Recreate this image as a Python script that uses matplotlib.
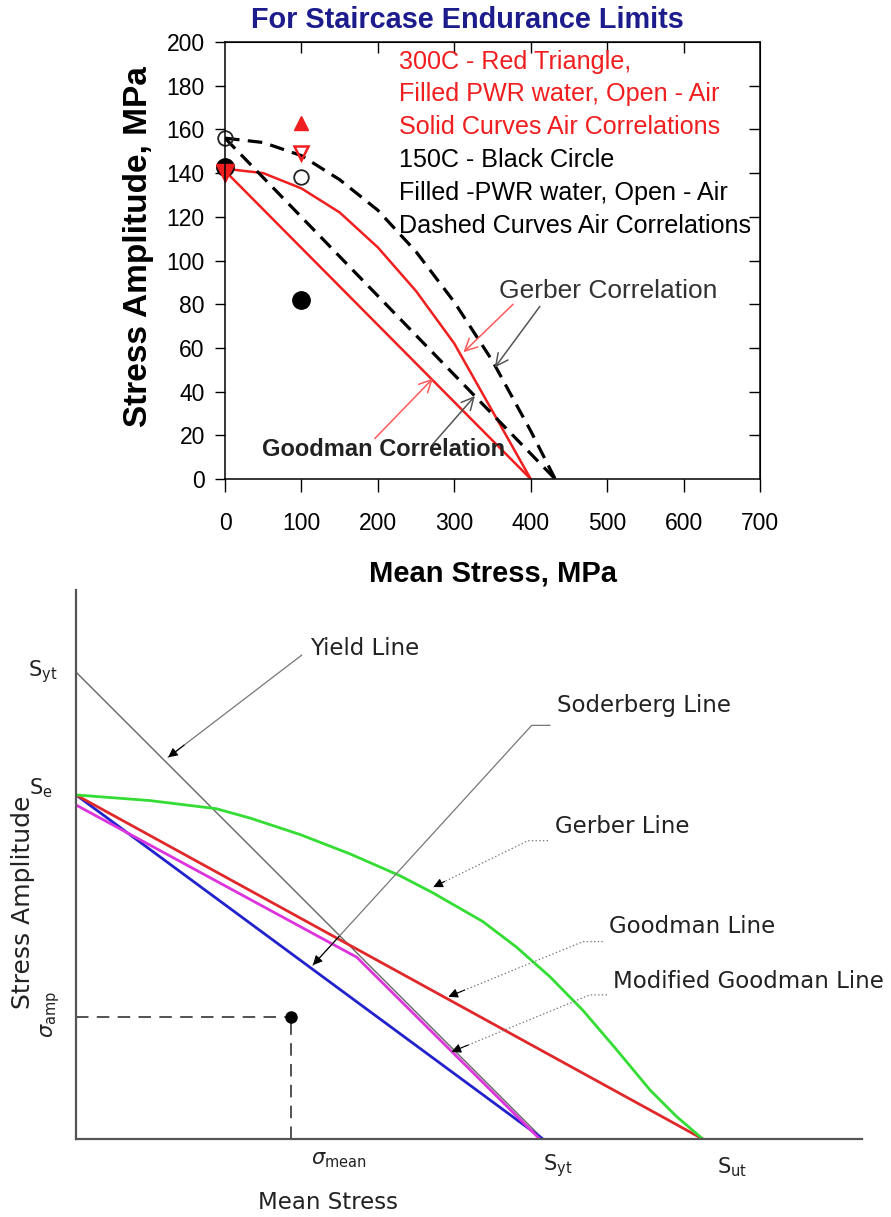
import matplotlib
matplotlib.use('Agg')
import matplotlib.pyplot as plt
from matplotlib.ticker import NullFormatter

# ---------------- top chart: staircase endurance limits ----------------
ticks_x = [0, 100, 200, 300, 400, 500, 600, 700]
ticks_y = [0, 20, 40, 60, 80, 100, 120, 140, 160, 180, 200]

# 300C air correlations (solid red)
gerber_300_x = [0, 50, 100, 150, 200, 250, 300, 350, 400]
gerber_300_y = [142, 140, 133, 122, 106, 86, 62, 31, 0]
goodman_300_x = [0, 400]
goodman_300_y = [141, 0]

# 150C air correlations (dashed black)
gerber_150_x = [0, 50, 100, 150, 200, 250, 300, 350, 400, 432]
gerber_150_y = [156, 154, 148, 137, 123, 104, 81, 54, 22, 0]
goodman_150_x = [0, 432]
goodman_150_y = [156, 0]

# test results
red_up_x, red_up_y = [100], [163]
red_down_x, red_down_y = [0], [140]
red_open_x, red_open_y = [100], [149]
black_fill_x, black_fill_y = [0, 100], [143, 82]
black_open_x, black_open_y = [0, 100], [156, 138]

notes_red = ['300C - Red Triangle,', 'Filled PWR water, Open - Air',
             'Solid Curves Air Correlations']
notes_black = ['150C - Black Circle', 'Filled -PWR water, Open - Air',
               'Dashed Curves Air Correlations']

# ---------------- bottom chart: fatigue failure lines ----------------
S_e = 0.549
S_yt = 0.745
S_ut = 1.0
gerber_x = [0, 0.118, 0.224, 0.278, 0.357, 0.437, 0.517, 0.569, 0.649, 0.703,
            0.756, 0.809, 0.862, 0.916, 0.958, 1.0]
gerber_y = [0.549, 0.540, 0.527, 0.512, 0.486, 0.455, 0.420, 0.393, 0.347, 0.306,
            0.259, 0.205, 0.143, 0.078, 0.036, 0]
mod_goodman_x = [0, 0.448, 0.740]
mod_goodman_y = [0.533, 0.290, 0]
sigma_mean, sigma_amp = 0.343, 0.195

plt.rcParams['font.family'] = ['Liberation Sans', 'DejaVu Sans']
plt.rcParams['lines.scale_dashes'] = False

fig = plt.figure(figsize=(8.91, 12.17), dpi=100)

# ===== top axes =====
ax1 = fig.add_axes([225 / 891, 1 - 479 / 1217, 535 / 891, 437 / 1217])
red = '#f01e1e'
ax1.plot(gerber_300_x, gerber_300_y, color=red, lw=1.8)
ax1.plot(goodman_300_x, goodman_300_y, color=red, lw=1.8)
ax1.plot(gerber_150_x, gerber_150_y, color='black', lw=2.3, dashes=(10.5, 6))
ax1.plot(goodman_150_x, goodman_150_y, color='black', lw=2.3, dashes=(10.5, 6))

ax1.plot(black_open_x, black_open_y, 'o', ms=10.5, mfc='none', mec='#222', mew=1.3, clip_on=False)
ax1.plot(black_fill_x, black_fill_y, 'o', ms=12.5, color='black', clip_on=False)
ax1.plot(red_down_x, red_down_y, 'v', ms=13, color=red, clip_on=False)
ax1.plot(red_up_x, red_up_y, '^', ms=9.5, color=red)
ax1.plot(red_open_x, red_open_y, 'v', ms=10, mfc='none', mec=red, mew=1.8)

ax1.set_xlim(0, 700)
ax1.set_ylim(0, 200)
ax1.set_xticks(ticks_x)
ax1.set_yticks(ticks_y)
ax1.tick_params(axis='x', direction='out', length=9.5, width=1, pad=14, labelsize=16.5)
ax1.tick_params(axis='y', direction='out', length=7.5, width=1, pad=7, labelsize=16.5)
for sp in ax1.spines.values():
    sp.set_linewidth(1.1)

top = ax1.secondary_xaxis('top')
top.set_xticks(ticks_x[1:-1])
top.xaxis.set_major_formatter(NullFormatter())
top.tick_params(direction='in', length=8, width=1)
right = ax1.secondary_yaxis('right')
right.set_yticks(ticks_y[1:-1])
right.yaxis.set_major_formatter(NullFormatter())
right.tick_params(direction='in', length=8, width=1)

ax1.set_xlabel('Mean Stress, MPa', fontsize=21, fontweight='bold', va='center')
ax1.xaxis.set_label_coords(0.5, -94 / 437)
ax1.set_ylabel('Stress Amplitude, MPa', fontsize=24, fontweight='bold', va='center')
ax1.yaxis.set_label_coords(-87 / 535, 0.532)
fig.text(0.525, 1 - 20 / 1217, 'For Staircase Endurance Limits', ha='center', va='center',
         fontsize=20.8, fontweight='bold', color='#1c1c8c')

for i, line in enumerate(notes_red + notes_black):
    ax1.text(228, 191 - 15 * i, line, fontsize=18.1, va='center',
             color=red if i < 3 else 'black')

ax1.text(358, 86, 'Gerber Correlation', fontsize=19, va='center', color='#333333')
ax1.text(49, 13.5, 'Goodman Correlation', fontsize=17, va='center', fontweight='bold',
         color='#222222')

arrow_red = dict(arrowstyle='->', color='#ff5a5a', lw=1.1, mutation_scale=22, shrinkA=0, shrinkB=0)
arrow_gray = dict(arrowstyle='->', color='#555555', lw=1.1, mutation_scale=22, shrinkA=0, shrinkB=0)
ax1.annotate('', xy=(312, 58), xytext=(377, 80), arrowprops=arrow_red)
ax1.annotate('', xy=(353, 51), xytext=(412, 79), arrowprops=arrow_gray)
ax1.annotate('', xy=(272, 46), xytext=(196, 18.5), arrowprops=arrow_red)
ax1.annotate('', xy=(327, 38), xytext=(272, 16), arrowprops=arrow_gray)

# ===== bottom axes =====
ax2 = fig.add_axes([76 / 891, 1 - 1139 / 1217, 786 / 891, 549 / 1217])
ax2.set_xlim(0, 1.254)
ax2.set_ylim(0, 0.876)
for side in ['top', 'right']:
    ax2.spines[side].set_visible(False)
for side in ['left', 'bottom']:
    ax2.spines[side].set_color('#555555')
    ax2.spines[side].set_linewidth(1.6)
ax2.set_xticks([])
ax2.set_yticks([])

ax2.plot([0, S_yt], [S_yt, 0], color='#666666', lw=1.0)
ax2.plot([0, S_yt], [S_e, 0], color='#2222cc', lw=2.0)
ax2.plot(mod_goodman_x, mod_goodman_y, color='#dd33dd', lw=2.0)
ax2.plot([0, S_ut], [S_e, 0], color='#e0282a', lw=2.0)
ax2.plot(gerber_x, gerber_y, color='#33dd33', lw=2.0)

ax2.plot([0, sigma_mean], [sigma_amp, sigma_amp], color='#444444', lw=1.3, dashes=(9, 6))
ax2.plot([sigma_mean, sigma_mean], [0, sigma_amp], color='#444444', lw=1.3, dashes=(9, 6))
ax2.plot([sigma_mean], [sigma_amp], 'o', ms=8, color='black')

lab = dict(fontsize=16.5, family='DejaVu Sans', color='#222222', va='center')
ax2.text(0.373, 0.783, 'Yield Line', **lab)
ax2.text(0.767, 0.692, 'Soderberg Line', **lab)
ax2.text(0.764, 0.498, 'Gerber Line', **lab)
ax2.text(0.850, 0.339, 'Goodman Line', **lab)
ax2.text(0.857, 0.251, 'Modified Goodman Line', **lab)


def leader(pts, style):
    xs, ys = zip(*pts)
    ax2.plot(xs, ys, color='#777777', lw=0.9, ls=style)
    (x0, y0), (x1, y1) = pts[-2], pts[-1]
    ax2.annotate('', xy=(x1, y1), xytext=(x1 + (x0 - x1) * 0.12, y1 + (y0 - y1) * 0.12),
                 arrowprops=dict(arrowstyle='-|>', color='black', lw=0.8,
                                 mutation_scale=14, shrinkA=0, shrinkB=0))


leader([(0.360, 0.772), (0.147, 0.609)], '-')
leader([(0.756, 0.660), (0.727, 0.660), (0.378, 0.2775)], '-')
leader([(0.753, 0.476), (0.721, 0.476), (0.570, 0.402)], ':')
leader([(0.8405, 0.315), (0.809, 0.315), (0.594, 0.227)], ':')
leader([(0.847, 0.230), (0.820, 0.230), (0.599, 0.139)], ':')

sym = dict(fontsize=15, family='DejaVu Sans', color='#222222', clip_on=False)
ax2.text(-0.03, S_yt, r'S$_{\mathrm{yt}}$', ha='right', va='center', **sym)
ax2.text(-0.037, S_e + 0.01, r'S$_{\mathrm{e}}$', ha='right', va='center', **sym)
ax2.text(-0.041, 0.198, r'$\sigma_{\mathrm{amp}}$', ha='center', va='center', rotation=90, **sym)
ax2.text(0.375, -0.033, r'$\sigma_{\mathrm{mean}}$', ha='left', va='center', **sym)
ax2.text(S_yt, -0.043, r'S$_{\mathrm{yt}}$', ha='left', va='center', **sym)
ax2.text(1.022, -0.045, r'S$_{\mathrm{ut}}$', ha='left', va='center', **sym)
ax2.text(0.402, -0.102, 'Mean Stress', ha='center', va='center', fontsize=16.5,
         family='DejaVu Sans', color='#222222')
ax2.text(-0.085, 0.378, 'Stress Amplitude', ha='center', va='center', rotation=90,
         fontsize=18, family='DejaVu Sans', color='#222222')

fig.savefig('out.png', dpi=100)
